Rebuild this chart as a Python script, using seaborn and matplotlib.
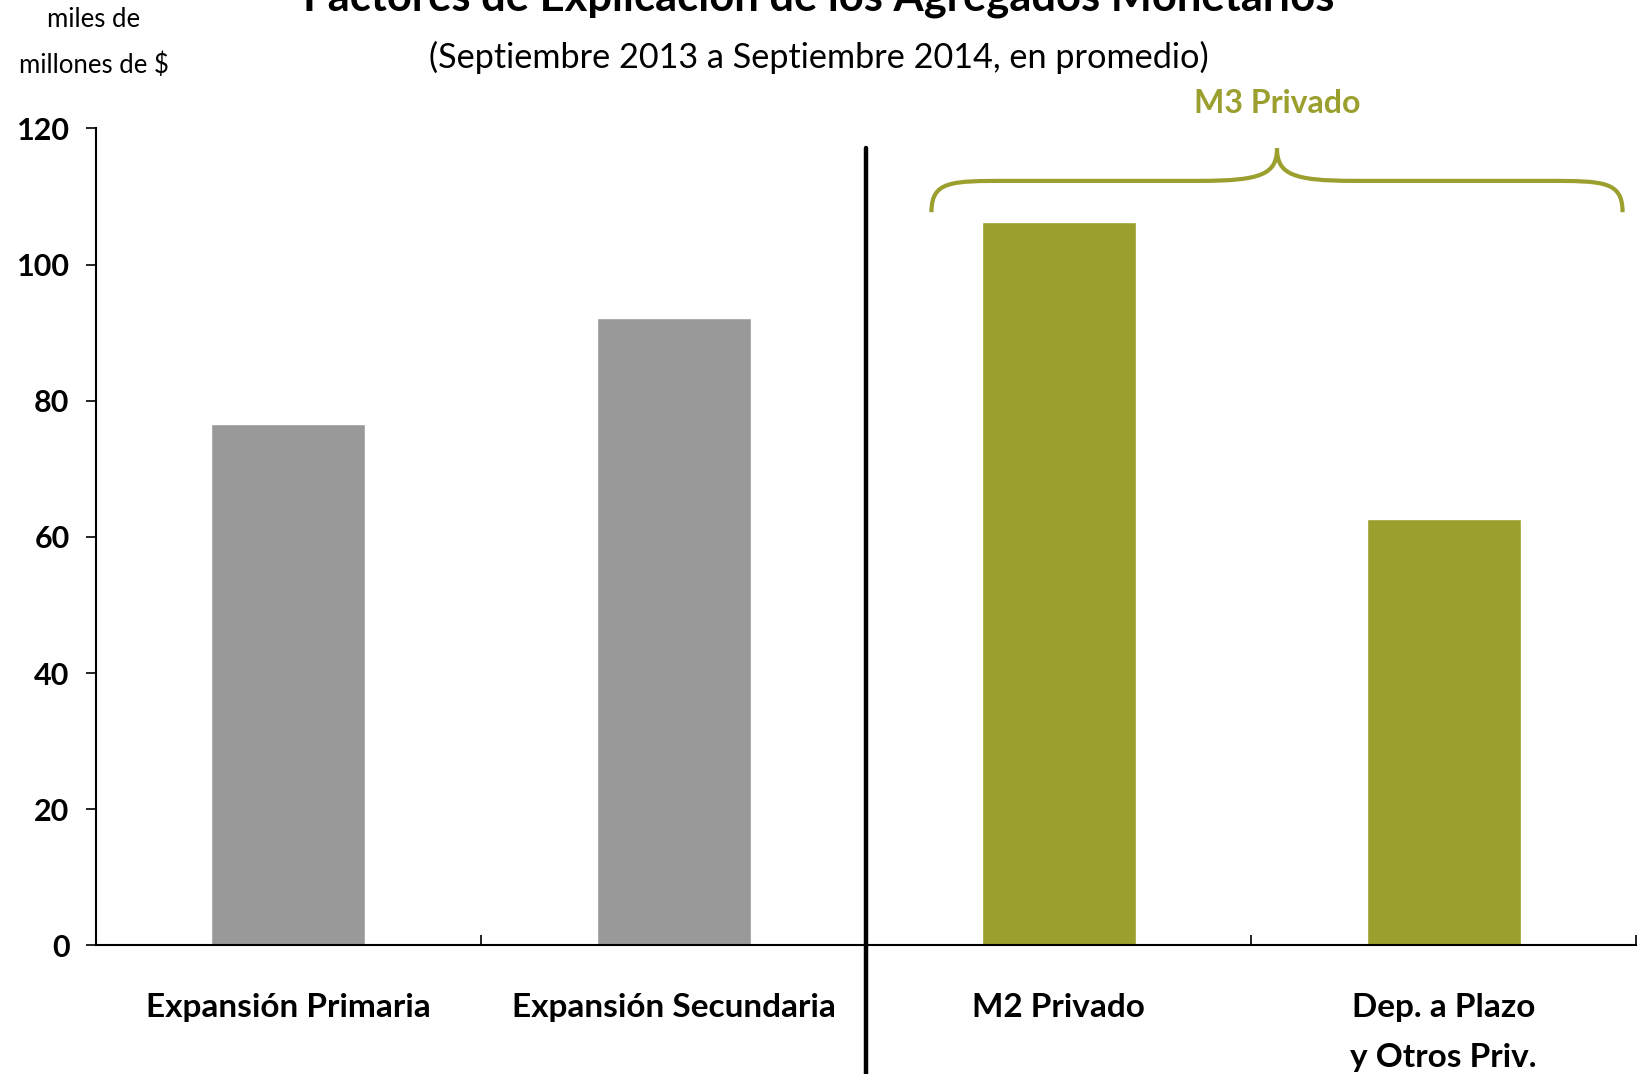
import numpy as np
import pandas as pd
import seaborn as sns
import matplotlib.pyplot as plt
from matplotlib.path import Path
from matplotlib.patches import PathPatch
from matplotlib.lines import Line2D

# --- Datos (miles de millones de $, promedio Sep 2013 - Sep 2014) ---
categorias = ['Expansión Primaria', 'Expansión Secundaria', 'M2 Privado',
              'Dep. a Plazo\ny Otros Priv.']
valores = [76.6, 92.2, 106.3, 62.6]
colores = ['#999999', '#999999', '#9A9F2D', '#9A9F2D']
yticks = [0, 20, 40, 60, 80, 100, 120]

verde = '#9A9F2D'

sns.set_theme(style='white')
plt.rcParams['font.family'] = ['Lato', 'DejaVu Sans']
plt.rcParams['text.color'] = 'black'
plt.rcParams['xtick.color'] = 'black'
plt.rcParams['ytick.color'] = 'black'

df = pd.DataFrame({'categoria': categorias, 'valor': valores})

fig = plt.figure(figsize=(16.38, 10.74), dpi=100)
ax = fig.add_axes([0.0586, 0.1197, 0.9402, 0.7607])

sns.barplot(data=df, x='categoria', y='valor', hue='categoria',
            palette=colores, width=0.4, legend=False, saturation=1, ax=ax)

ax.set_xlim(-0.5, 3.5)
ax.set_ylim(0, 120)
ax.set_xlabel('')
ax.set_ylabel('')
sns.despine(ax=ax)
for s in ['left', 'bottom']:
    ax.spines[s].set_color('black')
    ax.spines[s].set_linewidth(1.5)

# eje y
ax.set_yticks(yticks)
ax.set_yticklabels([str(v) for v in yticks], fontsize=22, fontweight='bold')
ax.tick_params(axis='y', left=True, direction='out', length=7, width=1.2, pad=12)

# eje x: etiquetas en el centro, marcas en los limites
ax.set_xticks(range(len(categorias)))
ax.set_xticklabels(categorias, fontsize=24, fontweight='bold', linespacing=1.9, va='top')
ax.tick_params(axis='x', which='major', bottom=True, length=0, pad=34)
ax.set_xticks([0.5, 1.5, 2.5, 3.5], minor=True)
ax.tick_params(axis='x', which='minor', bottom=True, direction='in', length=7, width=1.2)

# linea separadora
ax.add_line(Line2D([1.5, 1.5], [-0.157, 0.976], transform=ax.get_xaxis_transform(),
                   color='black', lw=3.2, clip_on=False))

# llave sobre M3 Privado
x0, x1 = 1.67, 3.465
xm = (x0 + x1) / 2
ye, yf, yt = 107.7, 112.3, 117.1
c = 0.20
verts = [(x0, ye), (x0, yf), (x0 + 0.05, yf), (x0 + c, yf),
         (xm - c, yf),
         (xm - 0.04, yf), (xm, yf + 1.0), (xm, yt),
         (xm, yf + 1.0), (xm + 0.04, yf), (xm + c, yf),
         (x1 - c, yf),
         (x1 - 0.05, yf), (x1, yf), (x1, ye)]
codes = [Path.MOVETO, Path.CURVE4, Path.CURVE4, Path.CURVE4,
         Path.LINETO,
         Path.CURVE4, Path.CURVE4, Path.CURVE4,
         Path.CURVE4, Path.CURVE4, Path.CURVE4,
         Path.LINETO,
         Path.CURVE4, Path.CURVE4, Path.CURVE4]
ax.add_patch(PathPatch(Path(verts, codes), fill=False, edgecolor=verde, lw=3, clip_on=False))
ax.text(xm, 1.031, 'M3 Privado', transform=ax.get_xaxis_transform(), ha='center',
        va='center', fontsize=23, fontweight='bold', color=verde)

# titulos
fig.text(0.5, 0.990, 'Factores de Explicación de los Agregados Monetarios',
         ha='center', va='baseline', fontsize=31.3, fontweight='bold')
fig.text(0.5, 0.9465, '(Septiembre 2013 a Septiembre 2014, en promedio)',
         ha='center', va='center', fontsize=24.7)
fig.text(0.0574, 0.982, 'miles de', ha='center', va='center', fontsize=18.5)
fig.text(0.0574, 0.9395, 'millones de $', ha='center', va='center', fontsize=18.5)

plt.savefig('out.png', dpi=100)
